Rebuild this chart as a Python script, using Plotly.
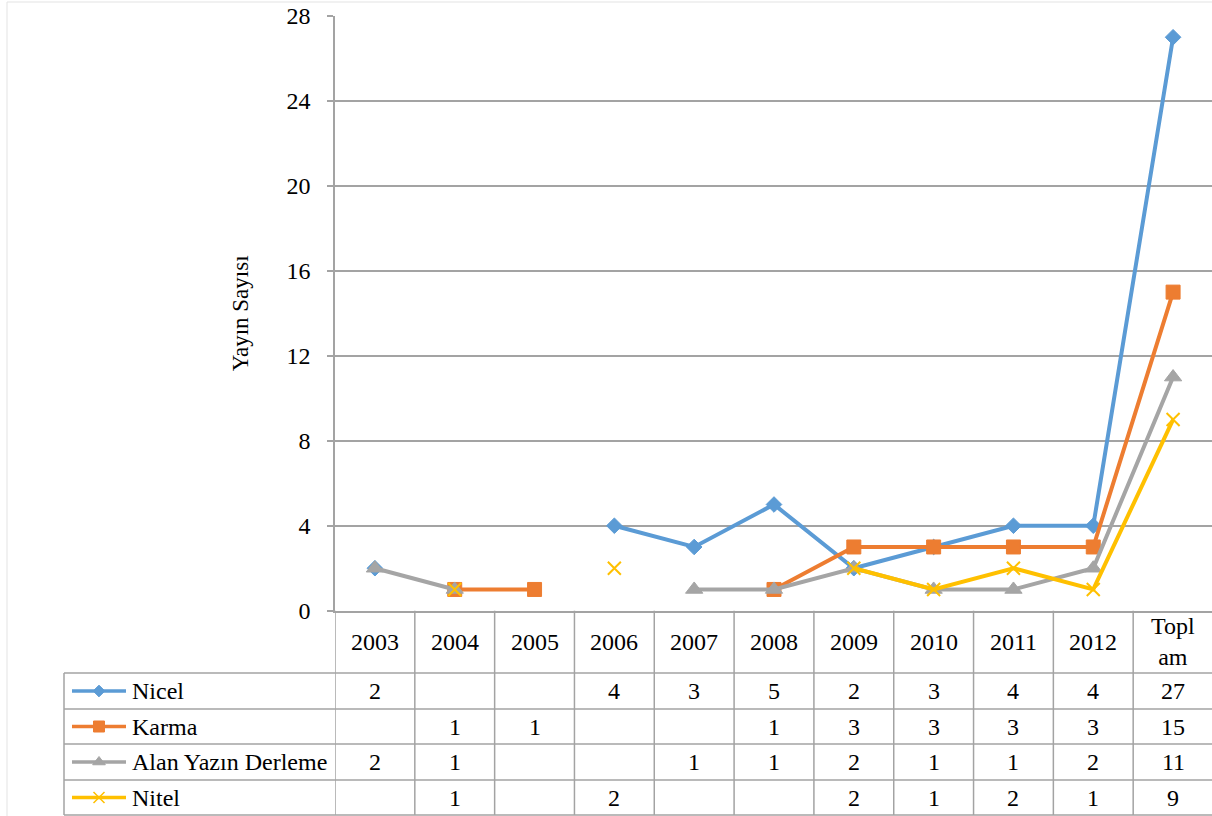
import plotly.graph_objects as go

# ---------------- data ----------------
categories = ["2003", "2004", "2005", "2006", "2007", "2008", "2009", "2010", "2011", "2012", "Toplam"]
header_labels = ["2003", "2004", "2005", "2006", "2007", "2008", "2009", "2010", "2011", "2012", "Topl<br>am"]

nicel = [2, None, None, 4, 3, 5, 2, 3, 4, 4, 27]
karma = [None, 1, 1, None, None, 1, 3, 3, 3, 3, 15]
alan = [2, 1, None, None, 1, 1, 2, 1, 1, 2, 11]
nitel = [None, 1, None, 2, None, None, 2, 1, 2, 1, 9]

series_names = ["Nicel", "Karma", "Alan Yazın Derleme", "Nitel"]
series_values = [nicel, karma, alan, nitel]
y_ticks = [0, 4, 8, 12, 16, 20, 24, 28]

# ---------------- style ----------------
W, H = 1212, 816
FONT = "Liberation Serif, Times New Roman, serif"
colors = ["#5B9BD5", "#ED7D31", "#A5A5A5", "#FFC000"]
symbols = ["diamond", "square", "triangle-up", "x-thin"]
sizes = [12, 14, 15, 13]
key_sizes = [9, 11, 11, 11]
GRID = "#a3a3a3"
LW = 4

plot_left, plot_top, plot_bottom = 335, 16, 610.7
col_w = (1213 - plot_left) / len(categories)
row_edges = [610.7, 673, 709, 744, 780, 815]
row_centers = [(row_edges[i] + row_edges[i + 1]) / 2 for i in range(len(row_edges) - 1)]
cat_pos = list(range(len(categories)))

fig = go.Figure()


def mline(s, c, w=2):
    return dict(width=w, color=c) if s == "x-thin" else dict(width=1, color=c)


# main data traces
for name, vals, c, s, sz in zip(series_names, series_values, colors, symbols, sizes):
    fig.add_trace(go.Scatter(
        x=categories, y=vals, name=name, mode="lines+markers",
        line=dict(color=c, width=LW),
        marker=dict(symbol=s, size=sz, color=c, line=mline(s, c)),
        xaxis="x", yaxis="y", showlegend=False, connectgaps=False,
        cliponaxis=False,
    ))

# legend keys in table (pixel overlay axes)
for i, (name, c, s, sz) in enumerate(zip(series_names, colors, symbols, key_sizes)):
    yc = row_centers[i + 1]
    fig.add_trace(go.Scatter(
        x=[72, 126], y=[yc, yc], mode="lines", line=dict(color=c, width=3.5),
        xaxis="x2", yaxis="y2", showlegend=False, hoverinfo="skip"))
    fig.add_trace(go.Scatter(
        x=[99], y=[yc], mode="markers",
        marker=dict(symbol=s, size=sz, color=c, line=mline(s, c, 1.5)),
        xaxis="x2", yaxis="y2", showlegend=False, hoverinfo="skip"))

annotations = []
shapes = []
tfont = dict(family=FONT, size=24, color="black")

# header row labels
for p, lab in zip(cat_pos, header_labels):
    annotations.append(dict(x=p, xref="x", y=row_centers[0], yref="y2", text=lab,
                            showarrow=False, xanchor="center", yanchor="middle", font=tfont))

# value cells
for r, vals in enumerate(series_values):
    for p, v in zip(cat_pos, vals):
        if v is None:
            continue
        annotations.append(dict(x=p, xref="x", y=row_centers[r + 1], yref="y2", text=str(v),
                                showarrow=False, xanchor="center", yanchor="middle", font=tfont))

# legend labels
for r, name in enumerate(series_names):
    annotations.append(dict(x=130, xref="x2", y=row_centers[r + 1], yref="y2", text=name,
                            showarrow=False, xanchor="left", yanchor="middle", font=tfont))

# y axis title
annotations.append(dict(x=240, xref="x2", y=(plot_top + plot_bottom) / 2, yref="y2",
                        text="Yayın Sayısı", textangle=-90, showarrow=False,
                        xanchor="center", yanchor="middle",
                        font=dict(family=FONT, size=23, color="black")))

# table grid: horizontal lines
for ye in row_edges[1:]:
    shapes.append(dict(type="line", xref="x2", yref="y2", x0=64, x1=1215, y0=ye, y1=ye,
                       line=dict(color=GRID, width=1.5)))
# left border of legend column
shapes.append(dict(type="line", xref="x2", yref="y2", x0=64, x1=64, y0=row_edges[1], y1=row_edges[-1],
                   line=dict(color=GRID, width=1.5)))
# vertical column lines via category axis
for i in range(len(categories) + 1):
    shapes.append(dict(type="line", xref="x", yref="y2", x0=i - 0.5, x1=i - 0.5,
                       y0=row_edges[0], y1=row_edges[-1], line=dict(color=GRID, width=1.5)))
# faint chart border
shapes.append(dict(type="rect", xref="x2", yref="y2", x0=7, x1=1220, y0=2, y1=830,
                   line=dict(color="#e3e3e3", width=1), layer="below"))

x_end = len(categories) - 0.5 - (plot_left + col_w * len(categories) - W) / col_w

fig.update_layout(
    width=W, height=H, autosize=False,
    margin=dict(l=0, r=0, t=0, b=0, pad=0, autoexpand=False),
    paper_bgcolor="white", plot_bgcolor="rgba(0,0,0,0)",
    font=dict(family=FONT, size=24, color="black"),
    xaxis=dict(type="category", domain=[plot_left / W, 1], range=[-0.5, x_end],
               showticklabels=False, ticks="", showgrid=False, zeroline=False, automargin=False,
               showline=True, linecolor=GRID, linewidth=1.5, anchor="y", fixedrange=True),
    yaxis=dict(domain=[1 - plot_bottom / H, 1 - plot_top / H], range=[0, 28],
               tickvals=y_ticks, ticktext=[str(t) for t in y_ticks],
               ticks="outside", ticklen=6, tickcolor=GRID, tickwidth=1.5,
               ticklabelstandoff=12, automargin=False,
               tickfont=dict(family=FONT, size=24, color="black"),
               showgrid=True, gridcolor=GRID, gridwidth=1.5, zeroline=False,
               showline=True, linecolor=GRID, linewidth=1.5, anchor="x", fixedrange=True),
    xaxis2=dict(domain=[0, 1], range=[0, W], visible=False, anchor="y2", fixedrange=True,
                automargin=False),
    yaxis2=dict(domain=[0, 1], range=[H, 0], visible=False, anchor="x2", fixedrange=True,
                automargin=False),
    annotations=annotations,
    shapes=shapes,
    showlegend=False,
)

fig.write_html("out.html")
